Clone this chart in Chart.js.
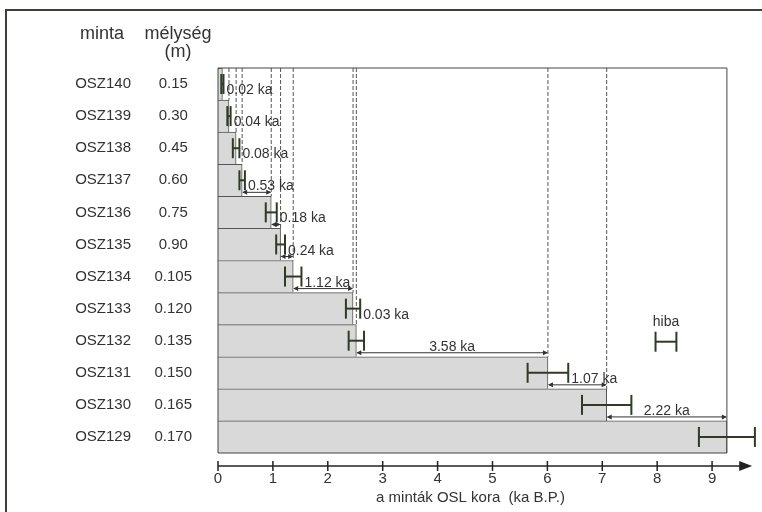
<!DOCTYPE html>
<html>
<head>
<meta charset="utf-8">
<script src="https://cdn.jsdelivr.net/npm/chart.js@4.4.0/dist/chart.umd.min.js"></script>
<style>
  html, body { margin: 0; padding: 0; background: #fff; }
</style>
</head>
<body>
<canvas id="chart" width="762" height="512"></canvas>
<script>
// DATA
const samples = ["OSZ140", "OSZ139", "OSZ138", "OSZ137", "OSZ136", "OSZ135",
                 "OSZ134", "OSZ133", "OSZ132", "OSZ131", "OSZ130", "OSZ129"];
const depths = ["0.15", "0.30", "0.45", "0.60", "0.75", "0.90",
                "0.105", "0.120", "0.135", "0.150", "0.165", "0.170"];
const ages = [0.08, 0.20, 0.33, 0.44, 0.97, 1.14, 1.37, 2.46, 2.52, 6.01, 7.08, 9.27]; // ka
const errors = [0.02, 0.03, 0.06, 0.05, 0.10, 0.08, 0.15, 0.13, 0.14, 0.37, 0.45, 0.51];
const gaps = [0.02, 0.04, 0.08, 0.53, 0.18, 0.24, 1.12, 0.03, 3.58, 1.07, 2.22]; // ka between neighbours
const xTicks = [0, 1, 2, 3, 4, 5, 6, 7, 8, 9];

const FONT = '"Liberation Sans", Arial, sans-serif';
const INK = "#333";
const ERR_INK = "#2f3a27";

function line(ctx, x1, y1, x2, y2) {
  ctx.beginPath();
  ctx.moveTo(x1, y1);
  ctx.lineTo(x2, y2);
  ctx.stroke();
}

function arrowHead(ctx, x, y, dir) {
  ctx.beginPath();
  ctx.moveTo(x, y);
  ctx.lineTo(x - dir * 5, y - 2.5);
  ctx.lineTo(x - dir * 5, y + 2.5);
  ctx.closePath();
  ctx.fill();
}

// tick label overhang would otherwise shrink the plot area
function noOverhang(s) {
  s.paddingTop = 0;
  s.paddingBottom = 0;
  s.paddingLeft = 0;
  s.paddingRight = 0;
}

// drawing of everything that is not a bar
const decor = {
  id: "decor",
  beforeDraw(chart) {
    const ctx = chart.ctx;
    ctx.save();
    ctx.strokeStyle = "#3c4038";
    ctx.lineWidth = 2;
    line(ctx, 5, 10, 762, 10);
    line(ctx, 6, 10, 6, 512);
    ctx.restore();
  },
  afterDatasetsDraw(chart) {
    const ctx = chart.ctx;
    const xs = chart.scales.x;
    const ys = chart.scales.y;
    const area = chart.chartArea;
    const rowH = ys.getPixelForValue(1) - ys.getPixelForValue(0);
    const rowTop = (i) => ys.getPixelForValue(i) - rowH / 2;
    const last = ages.length - 1;
    const x0 = xs.getPixelForValue(0);
    const xEnd = xs.getPixelForValue(ages[last]);

    ctx.save();

    // dashed guide lines
    ctx.strokeStyle = "#555";
    ctx.lineWidth = 1;
    ctx.setLineDash([4, 2]);
    for (let i = 0; i < last; i++) {
      const x = xs.getPixelForValue(ages[i]);
      line(ctx, x, area.top, x, rowTop(i));
    }
    ctx.setLineDash([]);

    // plot box
    ctx.strokeStyle = "#444";
    line(ctx, x0, area.top, xEnd, area.top);
    line(ctx, x0, area.top, x0, area.bottom);
    line(ctx, xEnd, area.top, xEnd, area.bottom);
    line(ctx, x0, area.bottom, xEnd, area.bottom);

    // error bars
    ctx.strokeStyle = ERR_INK;
    ctx.lineWidth = 2;
    ages.forEach((a, i) => {
      const cy = ys.getPixelForValue(i);
      const xl = xs.getPixelForValue(a - errors[i]);
      const xr = xs.getPixelForValue(a + errors[i]);
      line(ctx, xl, cy, xr, cy);
      line(ctx, xl, cy - 10, xl, cy + 10);
      line(ctx, xr, cy - 10, xr, cy + 10);
    });

    // age difference arrows + labels
    ctx.font = "14px " + FONT;
    ctx.fillStyle = INK;
    ctx.strokeStyle = INK;
    ctx.lineWidth = 1;
    ctx.textBaseline = "alphabetic";
    ctx.textAlign = "left";
    gaps.forEach((g, i) => {
      const xa = xs.getPixelForValue(ages[i]);
      const xb = xs.getPixelForValue(ages[i + 1]);
      const yb = rowTop(i) + rowH;
      const ya = yb - 4;
      if (xb - xa >= 8) {
        line(ctx, xa + 1, ya, xb - 1, ya);
        arrowHead(ctx, xa, ya, -1);
        arrowHead(ctx, xb, ya, 1);
      }
      const txt = g.toFixed(2) + " ka";
      const w = ctx.measureText(txt).width;
      const start = Math.max(xs.getPixelForValue(ages[i] + errors[i]) + 3, (xa + xb) / 2 - w / 2);
      ctx.fillText(txt, start, yb - 6);
    });

    // "hiba" legend
    const hx = xs.getPixelForValue(8.16);
    const hy = ys.getPixelForValue(8) + 1;
    ctx.textAlign = "center";
    ctx.textBaseline = "middle";
    ctx.fillText("hiba", hx, hy - 20);
    ctx.strokeStyle = ERR_INK;
    ctx.lineWidth = 2;
    const hl = xs.getPixelForValue(7.97), hr = xs.getPixelForValue(8.35);
    line(ctx, hl, hy, hr, hy);
    line(ctx, hl, hy - 10, hl, hy + 10);
    line(ctx, hr, hy - 10, hr, hy + 10);

    // x axis with arrow
    const ay = area.bottom + 13;
    const tip = xs.getPixelForValue(9.73);
    ctx.strokeStyle = "#222";
    ctx.fillStyle = "#222";
    ctx.lineWidth = 1.5;
    line(ctx, x0, ay, tip - 10, ay);
    ctx.beginPath();
    ctx.moveTo(tip, ay);
    ctx.lineTo(tip - 13, ay - 5);
    ctx.lineTo(tip - 13, ay + 5);
    ctx.closePath();
    ctx.fill();
    xTicks.forEach((v) => {
      const x = xs.getPixelForValue(v);
      line(ctx, x, ay - 5, x, ay + 5);
    });

    // headers and axis title
    ctx.fillStyle = INK;
    ctx.font = "18px " + FONT;
    ctx.fillText("minta", 102, 34);
    ctx.fillText("mélység", 178, 34);
    ctx.fillText("(m)", 178, 52);
    ctx.font = "15px " + FONT;
    ctx.fillText("a minták OSL kora  (ka B.P.)", xs.getPixelForValue(4.6), 498);

    ctx.restore();
  },
};

const noGrid = { display: false, drawTicks: false };

new Chart(document.getElementById("chart"), {
  type: "bar",
  data: {
    labels: samples,
    datasets: [
      {
        data: ages,
        backgroundColor: "#d9d9d9",
        borderColor: "#555",
        borderWidth: { top: 1, right: 1, bottom: 0, left: 0 },
        borderSkipped: false,
        categoryPercentage: 1,
        barPercentage: 1,
      },
    ],
  },
  options: {
    indexAxis: "y",
    responsive: false,
    animation: false,
    devicePixelRatio: 1,
    layout: { padding: { left: 8, top: 68, right: 6, bottom: 7 } },
    plugins: { legend: { display: false }, tooltip: { enabled: false } },
    scales: {
      x: {
        type: "linear",
        min: 0,
        max: 9.8,
        grid: noGrid,
        border: { display: false },
        afterBuildTicks: (s) => { s.ticks = xTicks.map((v) => ({ value: v })); },
        afterFit: noOverhang,
        ticks: { padding: 17, color: INK, font: { family: FONT, size: 15 } },
      },
      y: {
        type: "category",
        position: "left",
        weight: 2,
        grid: noGrid,
        border: { display: false },
        ticks: { crossAlign: "center", padding: 9, color: INK, font: { family: FONT, size: 15 } },
        afterFit: (s) => { s.width = 132; noOverhang(s); },
      },
      y2: {
        type: "category",
        labels: depths,
        offset: true,
        position: "left",
        weight: 1,
        grid: noGrid,
        border: { display: false },
        ticks: { crossAlign: "center", padding: 26, color: INK, font: { family: FONT, size: 15 } },
        afterFit: (s) => { s.width = 78; noOverhang(s); },
      },
    },
  },
  plugins: [decor],
});
</script>
</body>
</html>
